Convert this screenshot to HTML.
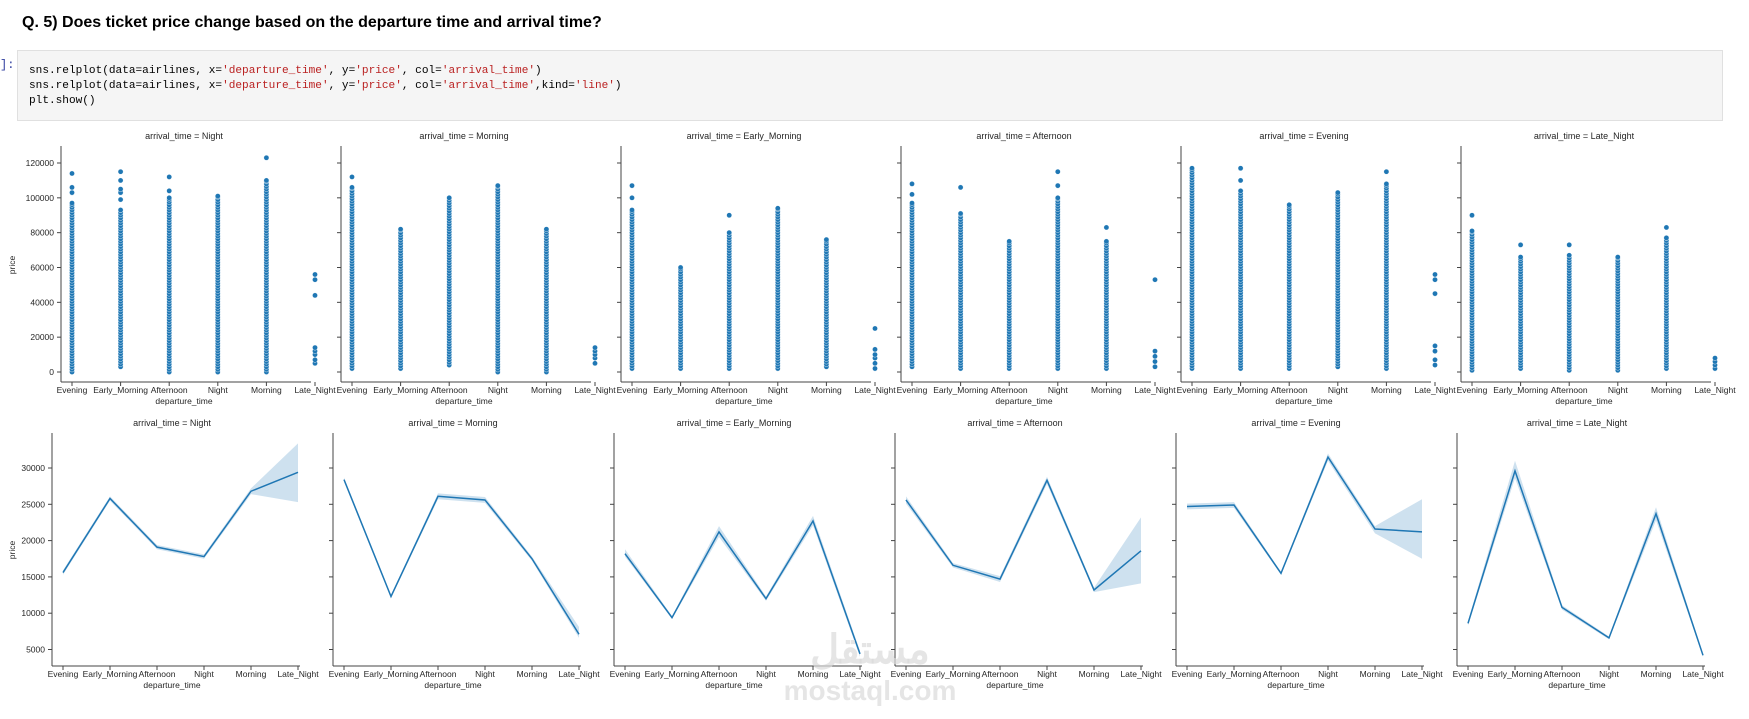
<!DOCTYPE html>
<html><head><meta charset="utf-8">
<style>
body{margin:0;width:1749px;height:719px;background:#fff;overflow:hidden;position:relative;font-family:"Liberation Sans",sans-serif;}
#title{position:absolute;left:22px;top:14px;font-size:16px;font-weight:bold;color:#000;}
#prompt{position:absolute;left:0;top:58px;font-family:"Liberation Mono",monospace;font-size:12px;color:#303f9f;}
#code{position:absolute;left:17px;top:50px;width:1706px;height:71px;background:#f5f5f5;border:1px solid #e0e0e0;box-sizing:border-box;}
#code pre{margin:0;position:absolute;left:11px;top:13px;font-family:"Liberation Mono",monospace;font-size:11.1px;line-height:15px;color:#000;}
.s{color:#ba2121}
svg{position:absolute;left:0;top:0}
</style></head><body>
<div id="title">Q. 5) Does ticket price change based on the departure time and arrival time?</div>
<div id="prompt">]:</div>
<div id="code"><pre>sns.relplot(data=airlines, x=<span class="s">'departure_time'</span>, y=<span class="s">'price'</span>, col=<span class="s">'arrival_time'</span>)
sns.relplot(data=airlines, x=<span class="s">'departure_time'</span>, y=<span class="s">'price'</span>, col=<span class="s">'arrival_time'</span>,kind=<span class="s">'line'</span>)
plt.show()</pre></div>
<svg id="chart" width="1749" height="719"></svg>
<script>
const categories=["Evening","Early_Morning","Afternoon","Night","Morning","Late_Night"];
const panels=["Night","Morning","Early_Morning","Afternoon","Evening","Late_Night"];
const scatterLo=[[0,3000,0,0,0,null],[2000,2000,4000,0,0,null],[2000,2000,2000,2000,3000,null],[3000,2000,2000,2000,2000,null],[2000,2000,2000,3000,2000,null],[1000,2000,1000,1000,2000,null]];
const scatterHi=[[97000,93000,100000,101000,110000,null],[106000,82000,100000,107000,82000,null],[93000,60000,80000,94000,76000,null],[97000,91000,75000,100000,75000,null],[117000,104000,96000,103000,108000,null],[81000,66000,67000,66000,77000,null]];
const scatterExtra=[
[[103000,106000,114000],[99000,103000,105000,110000,115000],[104000,112000],[],[123000],[5000,7000,10000,12000,14000,44000,53000,56000]],
[[112000],[],[],[],[],[5000,8000,10000,12000,14000]],
[[100000,107000],[],[90000],[],[],[2000,5000,8000,10000,13000,25000]],
[[102000,108000],[106000],[],[107000,115000],[83000],[3000,6000,9000,12000,53000]],
[[],[110000,117000],[],[],[115000],[4000,7000,12000,15000,45000,53000,56000]],
[[90000],[73000],[73000],[],[83000],[2000,4000,6000,8000]]];
const scatterTicks=[0,20000,40000,60000,80000,100000,120000];
const lineMean=[[15600,25800,19100,17800,26800,29400],[28400,12300,26100,25600,17500,7100],[18200,9400,21200,12000,22700,4400],[25600,16600,14700,28300,13200,18600],[24700,24900,15500,31500,21600,21200],[8600,29600,10800,6600,23700,4200]];
const lineLo=[[15300,25500,18800,17500,26400,25300],[28100,12100,25700,25200,17200,6600],[17800,9200,20500,11700,22100,4000],[25100,16300,14300,27800,12900,14100],[24300,24500,15300,31000,21000,17500],[8300,28600,10500,6400,22800,4000]];
const lineHi=[[15900,26100,19400,18100,27200,33400],[28700,12500,26500,26000,17800,8100],[18800,9600,22000,12300,23400,4800],[26100,16900,15100,28800,13500,23200],[25100,25300,15700,32000,22000,25700],[8900,31000,11100,6800,24600,4400]];
const lineTicks=[5000,10000,15000,20000,25000,30000];

const NS="http://www.w3.org/2000/svg";
const svg=document.getElementById('chart');
function mk(tag,attrs,parent){const e=document.createElementNS(NS,tag);for(const k in attrs)e.setAttribute(k,attrs[k]);(parent||svg).appendChild(e);return e;}
function txt(s,x,y,anchor,size,parent,rot){const t=mk('text',{x:x,y:y,'text-anchor':anchor,'font-size':size,fill:'#262626','font-family':'Liberation Sans, sans-serif'},parent);if(rot)t.setAttribute('transform','rotate(-90 '+x+' '+y+')');t.textContent=s;return t;}

const BLUE="#1f77b4";
const sSpines=[61,341,621,901,1181,1461];
const sTop=146,sBot=382;
function sY(v){return 372-(v/120000)*209;}
function sX(p,i){return sSpines[p]+11+i*48.6;}
panels.forEach((pn,p)=>{
  const g=mk('g',{});
  
  
  const ttl=txt('arrival_time = '+pn,sSpines[p]+123,139,'middle',9,g);
  
  
  mk('line',{x1:sSpines[p],y1:sTop,x2:sSpines[p],y2:sBot,stroke:'#444','stroke-width':1},g);
  mk('line',{x1:sSpines[p],y1:sBot,x2:sSpines[p]+250,y2:sBot,stroke:'#444','stroke-width':1},g);
  scatterTicks.forEach(t=>{
    mk('line',{x1:sSpines[p]-4,y1:sY(t),x2:sSpines[p],y2:sY(t),stroke:'#444'},g);
    if(p===0){const l=txt(String(t),sSpines[p]-7,sY(t)+3,'end',8.5,g);}
  });
  categories.forEach((c,i)=>{
    const x=sX(p,i);
    mk('line',{x1:x,y1:sBot,x2:x,y2:sBot+4,stroke:'#444'},g);
    const l=txt(c,x,sBot+11,'middle',8.5,g);
    
    
    const lo=scatterLo[p][i],hi=scatterHi[p][i];
    if(lo!==null){
      for(let v=lo;v<=hi;v+=1500){
        const d=mk('circle',{cx:x,cy:sY(v),r:2.6,fill:BLUE,stroke:'#fff','stroke-width':0.4},g);
        
        
      }
      const d=mk('circle',{cx:x,cy:sY(hi),r:2.6,fill:BLUE,stroke:'#fff','stroke-width':0.4},g);
      
      
    }
    scatterExtra[p][i].forEach(v=>{
      const d=mk('circle',{cx:x,cy:sY(v),r:2.6,fill:BLUE,stroke:'#fff','stroke-width':0.4},g);
      
      
    });
  });
  const xl=txt('departure_time',sSpines[p]+123,sBot+22,'middle',8.5,g);
  
  
  if(p===0){const yl=txt('price',15,265,'middle',8.5,g,true);}
});

const lSpines=[52,333,614,895,1176,1457];
const lTop=433,lBot=666;
function lY(v){return 468-(v-30000)/5000*36.3;}
function lX(p,i){return lSpines[p]+11+i*47;}
panels.forEach((pn,p)=>{
  const g=mk('g',{});
  
  
  const ttl=txt('arrival_time = '+pn,lSpines[p]+120,426,'middle',9,g);
  
  
  mk('line',{x1:lSpines[p],y1:lTop,x2:lSpines[p],y2:lBot,stroke:'#444'},g);
  mk('line',{x1:lSpines[p],y1:lBot,x2:lSpines[p]+248,y2:lBot,stroke:'#444'},g);
  lineTicks.forEach(t=>{
    mk('line',{x1:lSpines[p]-4,y1:lY(t),x2:lSpines[p],y2:lY(t),stroke:'#444'},g);
    if(p===0){const l=txt(String(t),lSpines[p]-7,lY(t)+3,'end',8.5,g);}
  });
  let band='',line='';
  categories.forEach((c,i)=>{
    const x=lX(p,i);
    mk('line',{x1:x,y1:lBot,x2:x,y2:lBot+4,stroke:'#444'},g);
    const l=txt(c,x,lBot+11,'middle',8.5,g);
    
    
    band+=(i?'L':'M')+x+','+lY(lineHi[p][i]);
    line+=(i?'L':'M')+x+','+lY(lineMean[p][i]);
  });
  for(let i=categories.length-1;i>=0;i--)band+='L'+lX(p,i)+','+lY(lineLo[p][i]);
  const b=mk('path',{d:band+'Z',fill:BLUE,'fill-opacity':0.22,stroke:'none'},g);
  
  
  const ln=mk('path',{d:line,fill:'none',stroke:BLUE,'stroke-width':1.5},g);
  
  
  const xl=txt('departure_time',lSpines[p]+120,lBot+22,'middle',8.5,g);
  
  
  if(p===0){const yl=txt('price',15,550,'middle',8.5,g,true);}
});
const w1=txt('مستقل',870,663,'middle',40,null);
w1.setAttribute('fill','#dadada');w1.setAttribute('fill-opacity','0.7');w1.setAttribute('font-weight','bold');


const w2=txt('mostaql.com',870,700,'middle',28,null);
w2.setAttribute('fill','#dadada');w2.setAttribute('fill-opacity','0.7');w2.setAttribute('font-weight','bold');


</script>
</body></html>
